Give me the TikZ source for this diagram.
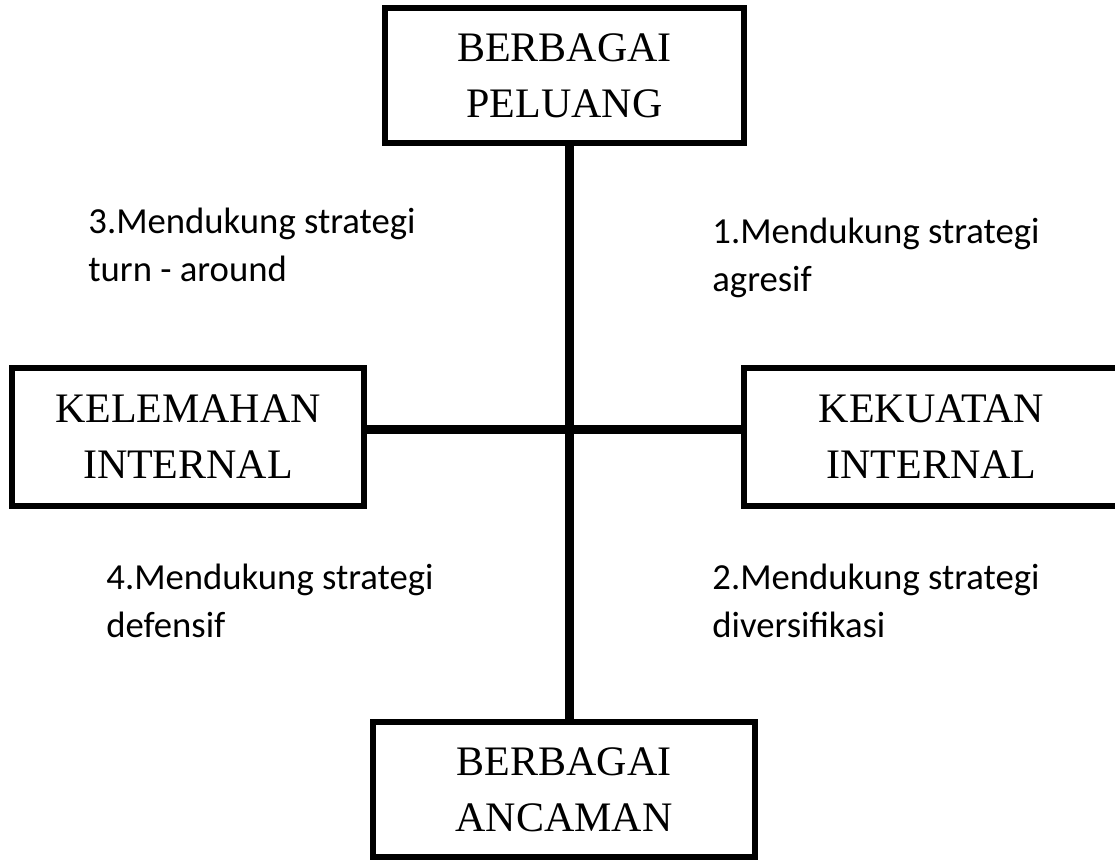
\documentclass[tikz,border=0pt]{standalone}
\usepackage{fontspec}
\setmainfont{Liberation Serif}
\newfontfamily\calibri{Carlito}
\begin{document}
\begin{tikzpicture}[x=0.5pt,y=-0.5pt,
  box/.style={draw=black, line width=3pt, fill=white, align=center, inner sep=0pt,
    font=\fontsize{21pt}{28pt}\selectfont},
  bar/.style={draw=black, line width=4.5pt},
  lbl/.style={anchor=base west, inner sep=0pt, align=left,
    font=\calibri\fontsize{18.35pt}{24pt}\selectfont}]
\clip (0,0) rectangle (1115,860);
\fill[white] (0,0) rectangle (1115,860);
\node[box, minimum width=179.5pt, minimum height=67.5pt] (top) at (564.5,75.5) {BERBAGAI\\PELUANG};
\node[box, minimum width=176pt, minimum height=69pt] (left) at (188,437) {KELEMAHAN\\INTERNAL};
\node[box, minimum width=187.5pt, minimum height=69pt] (right) at (931.5,437) {KEKUATAN\\INTERNAL};
\node[box, minimum width=191pt, minimum height=67.5pt] (bot) at (564,789.5) {BERBAGAI\\ANCAMAN};
\draw[bar] ([xshift=2.5pt]top.south) -- ([xshift=2.75pt]bot.north);
\draw[bar] ([yshift=3.5pt]left.east) -- ([yshift=3.5pt]right.west);
% base anchor of a two-line node is the baseline of its last line
\node[lbl] (q3) at (88,282) {3.Mendukung strategi\\turn - around};
\node[lbl] (q1) at (712,292) {1.Mendukung strategi\\agresif};
\node[lbl] (q4) at (106,638) {4.Mendukung strategi\\defensif};
\node[lbl] (q2) at (712,638) {2.Mendukung strategi\\diversifikasi};
\end{tikzpicture}
\end{document}
